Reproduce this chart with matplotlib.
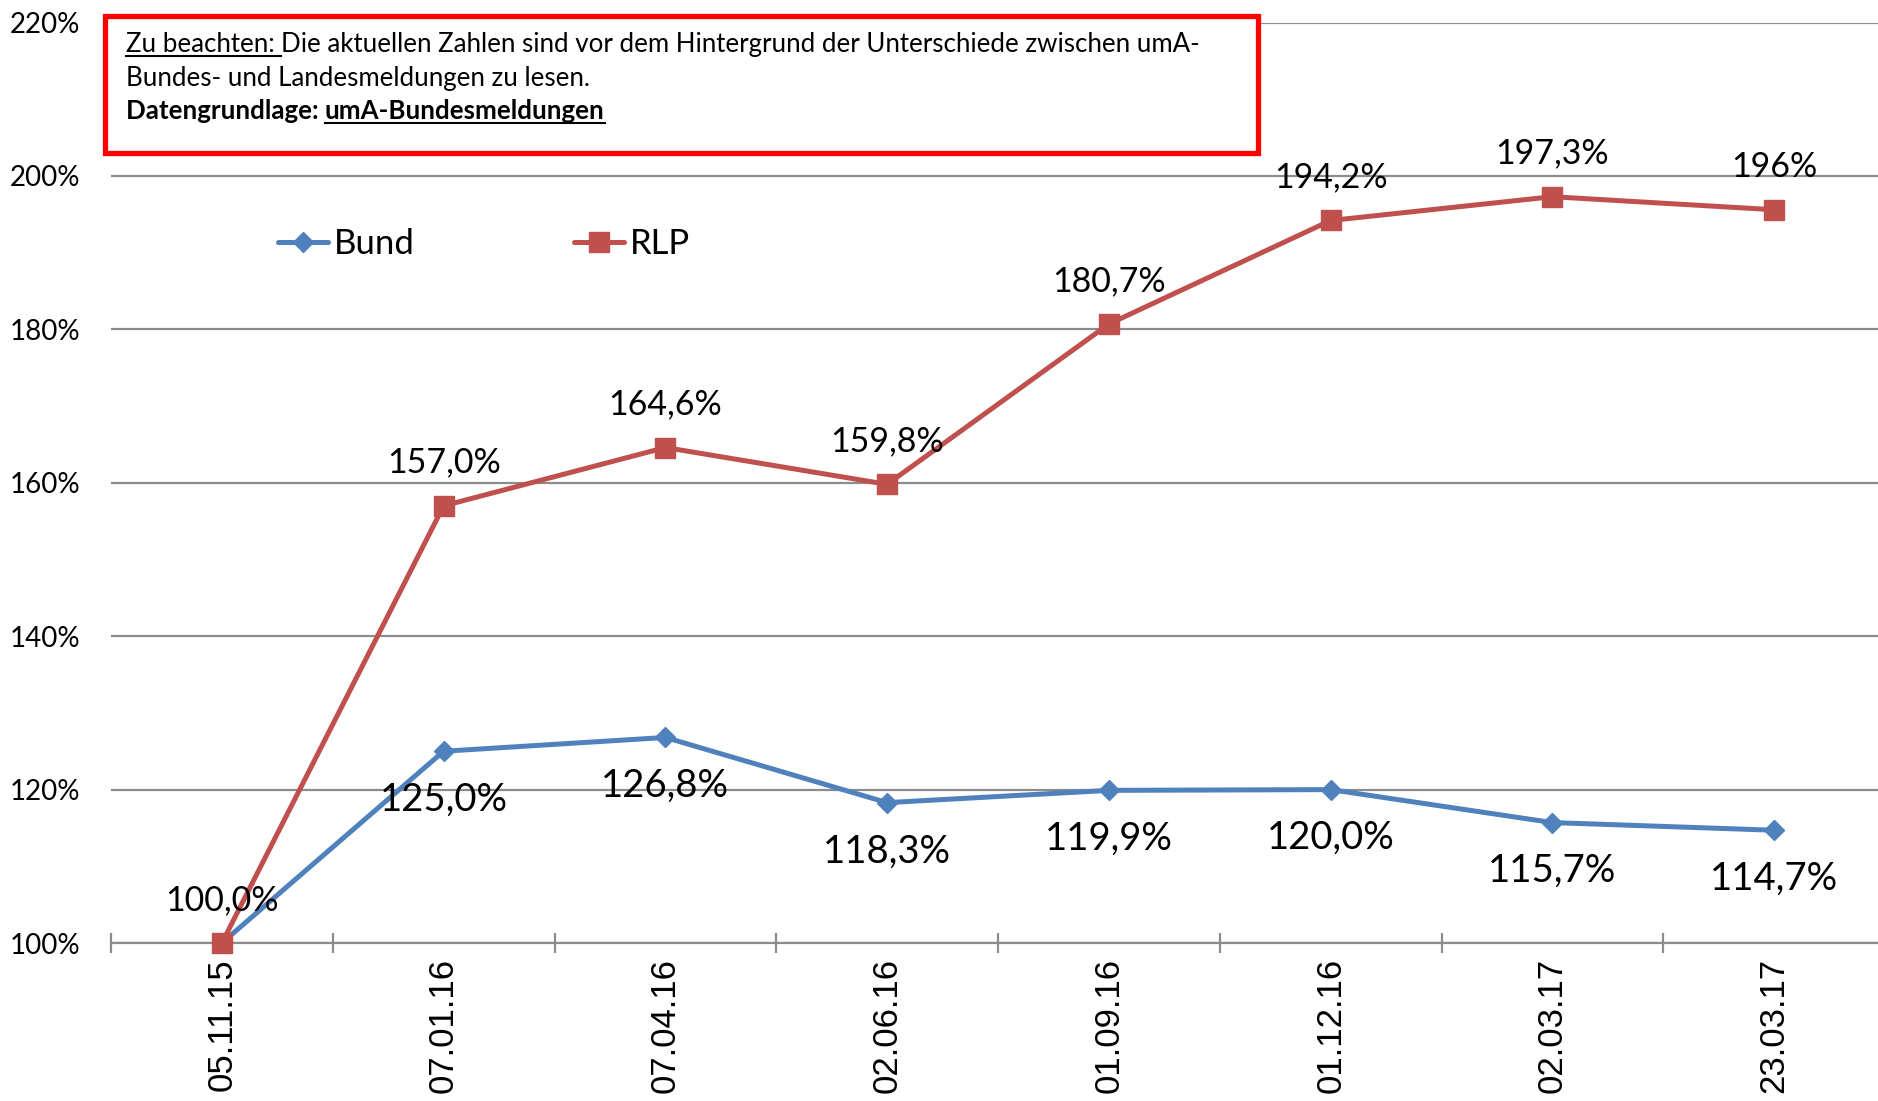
import matplotlib
matplotlib.use('Agg')
import matplotlib.pyplot as plt
from matplotlib.patches import Rectangle
from matplotlib.lines import Line2D

# ---------------- data ----------------
dates = ['05.11.15', '07.01.16', '07.04.16', '02.06.16', '01.09.16', '01.12.16', '02.03.17', '23.03.17']
bund = [100.0, 125.0, 126.8, 118.3, 119.9, 120.0, 115.7, 114.7]
rlp = [100.0, 157.0, 164.6, 159.8, 180.7, 194.2, 197.3, 195.6]
bund_labels = ['', '125,0%', '126,8%', '118,3%', '119,9%', '120,0%', '115,7%', '114,7%']
rlp_labels = ['100,0%', '157,0%', '164,6%', '159,8%', '180,7%', '194,2%', '197,3%', '196%']
yticks = [100, 120, 140, 160, 180, 200, 220]
ytick_labels = ['100%', '120%', '140%', '160%', '180%', '200%', '220%']
series_names = ['Bund', 'RLP']

BLUE = '#4F81BD'
RED = '#C0504D'
GRID = '#8C8C8C'
CAL = ['Lato', 'DejaVu Sans']
ARIAL = ['Liberation Sans', 'DejaVu Sans']

W, H = 1878, 1101
fig = plt.figure(figsize=(W / 100, H / 100), dpi=100)
ax_left, ax_right, ax_top, ax_bot = 111, 1885, 22.6, 943
ax = fig.add_axes([ax_left / W, 1 - ax_bot / H, (ax_right - ax_left) / W, (ax_bot - ax_top) / H])

x = list(range(len(dates)))
ax.set_xlim(-0.5, len(dates) - 0.5)
ax.set_ylim(100, 220)

ax.set_yticks(yticks)
ax.set_yticklabels(ytick_labels, fontfamily=CAL, fontsize=20)
ax.tick_params(axis='y', length=0, pad=22)
ax.yaxis.grid(True, color=GRID, lw=1.6)
ax.set_axisbelow(True)

ax.set_xticks(x)
ax.set_xticklabels(dates, rotation=90, fontfamily=ARIAL, fontsize=25)
ax.tick_params(axis='x', which='major', length=0, pad=11)
ax.set_xticks([i - 0.5 for i in range(len(dates) + 1)], minor=True)
ax.tick_params(axis='x', which='minor', length=14, direction='inout', color=GRID, width=1.6)

for s in ['left', 'right', 'top']:
    ax.spines[s].set_visible(False)
ax.spines['bottom'].set_color(GRID)
ax.spines['bottom'].set_linewidth(1.6)

lb, = ax.plot(x, bund, color=BLUE, lw=3.6, marker='D', ms=10, label=series_names[0],
              zorder=3, clip_on=False, solid_capstyle='round')
lr, = ax.plot(x, rlp, color=RED, lw=3.6, marker='s', ms=14, label=series_names[1],
              zorder=4, clip_on=False, solid_capstyle='round')

for i, (v, t) in enumerate(zip(rlp, rlp_labels)):
    ax.annotate(t, (i, v), xytext=(0, 31), textcoords='offset points', ha='center', va='center',
                fontfamily=CAL, fontsize=24.5, zorder=6)
for i, (v, t) in enumerate(zip(bund, bund_labels)):
    if t:
        ax.annotate(t, (i, v), xytext=(0, -35), textcoords='offset points', ha='center', va='center',
                    fontfamily=CAL, fontsize=27.5, zorder=6)

leg = ax.legend(handles=[lb, lr], ncol=2, frameon=False, loc='center left',
                bbox_to_anchor=(278 / W, 1 - 244 / H), bbox_transform=fig.transFigure,
                prop={'family': CAL, 'size': 25}, handlelength=1.45, handletextpad=0.15,
                columnspacing=4.6, borderpad=0, borderaxespad=0)

# ---------------- note box ----------------
bx0, by0, bx1, by1 = 105, 15.6, 1258, 153
box = Rectangle((bx0 / W, 1 - by1 / H), (bx1 - bx0) / W, (by1 - by0) / H, transform=fig.transFigure,
                facecolor='white', edgecolor='#FF0000', lw=3.8, zorder=10)
fig.patches.append(box)

renderer = fig.canvas.get_renderer()
FS = 18.6
tx = 126


def put(xpix, ypix, s, bold=False, underline=False):
    t = fig.text(xpix / W, 1 - ypix / H, s, fontfamily=CAL, fontsize=FS,
                 fontweight='bold' if bold else 'normal', ha='left', va='baseline', zorder=11)
    bb = t.get_window_extent(renderer)
    if underline:
        yu = (1 - ypix / H) - 3.5 / H
        fig.lines.append(Line2D([bb.x0 / W, bb.x1 / W], [yu, yu], transform=fig.transFigure,
                                color='black', lw=1.5, zorder=11))
    return bb.x1


xe = put(tx, 52, 'Zu beachten: ', underline=True)
put(xe, 52, 'Die aktuellen Zahlen sind vor dem Hintergrund der Unterschiede zwischen umA-')
put(tx, 86, 'Bundes- und Landesmeldungen zu lesen.')
xe = put(tx, 119, 'Datengrundlage: ', bold=True)
put(xe, 119, 'umA-Bundesmeldungen', bold=True, underline=True)

fig.savefig('out.png', dpi=100)
